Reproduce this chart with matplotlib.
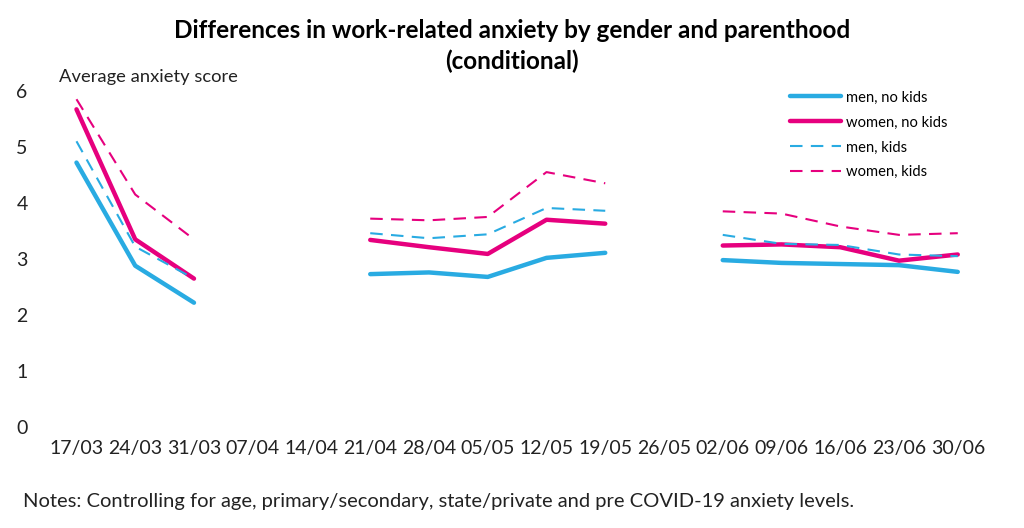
import numpy as np
import matplotlib.pyplot as plt

plt.rcParams['font.family'] = ['Lato', 'DejaVu Sans']

# weeks on the x axis
weeks = ["17/03", "24/03", "31/03", "07/04", "14/04", "21/04", "28/04", "05/05",
         "12/05", "19/05", "26/05", "02/06", "09/06", "16/06", "23/06", "30/06"]

nan = np.nan
# average anxiety score per group (gaps = no survey)
men_nokids = [4.72, 2.88, 2.22, nan, nan, 2.73, 2.76, 2.68, 3.02, 3.11, nan,
              2.98, 2.93, 2.91, 2.89, 2.77]
women_nokids = [5.67, 3.35, 2.65, nan, nan, 3.34, 3.21, 3.09, 3.70, 3.63, nan,
                3.24, 3.26, 3.21, 2.97, 3.08]
men_kids = [5.10, 3.22, 2.65, nan, nan, 3.46, 3.37, 3.44, 3.91, 3.86, nan,
            3.43, 3.27, 3.25, 3.08, 3.05]
women_kids = [5.85, 4.15, 3.35, nan, nan, 3.72, 3.69, 3.75, 4.55, 4.35, nan,
              3.85, 3.81, 3.58, 3.43, 3.46]

blue = "#29abe2"
pink = "#e6007e"

fig = plt.figure(figsize=(10.24, 5.28), dpi=100)
ax = fig.add_axes([0.046, 0.191, 0.918, 0.637])

x = np.arange(len(weeks))
ax.plot(x, men_nokids, color=blue, lw=3.2, label="men, no kids", solid_capstyle='round')
ax.plot(x, women_nokids, color=pink, lw=3.2, label="women, no kids", solid_capstyle='round')
ax.plot(x, men_kids, color=blue, lw=1.5, ls=(0, (6, 4)), label="men, kids")
ax.plot(x, women_kids, color=pink, lw=1.5, ls=(0, (6, 4)), label="women, kids")

ax.set_xlim(-0.5, len(weeks) - 0.5)
ax.set_ylim(0, 6)
ax.set_xticks(x)
ax.set_xticklabels(weeks, fontsize=14, color="#222222")
ax.set_yticks(range(0, 7))
ax.tick_params(axis='y', labelsize=14, colors="#222222", length=0, pad=14)
ax.tick_params(axis='x', length=0, pad=9)
for s in ax.spines.values():
    s.set_visible(False)

fig.text(0.058, 0.845, "Average anxiety score", fontsize=13.2, color="#222222")
# title in two pieces, one per line
fig.text(0.5, 0.943, "Differences in work-related anxiety by gender and parenthood",
         ha='center', va='center', fontsize=17.5, fontweight='bold')
fig.text(0.5, 0.884, "(conditional)",
         ha='center', va='center', fontsize=17.5, fontweight='bold')
fig.text(0.022, 0.04, "Notes: Controlling for age, primary/secondary, state/private and pre COVID-19 anxiety levels.",
         fontsize=14.5, color="#222222")

ax.legend(loc='upper left', bbox_to_anchor=(0.776, 1.04), frameon=False, fontsize=10.6,
          handlelength=3.5, handletextpad=0.3, labelspacing=0.74)

fig.savefig("out.png", dpi=100)
